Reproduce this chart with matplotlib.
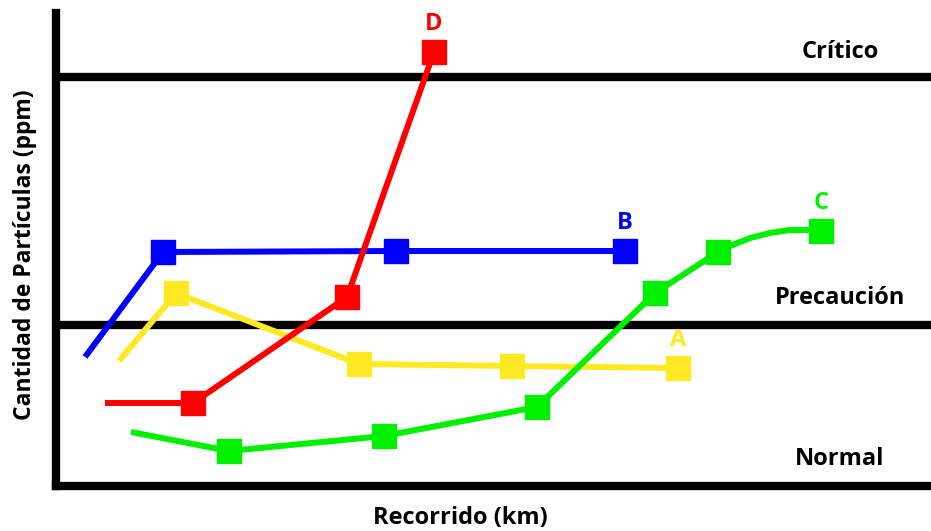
import matplotlib
matplotlib.use('Agg')
import matplotlib.pyplot as plt

# recorrido (km) / particulas (ppm) in arbitrary units
a_x = [63, 120, 303, 456, 622]
a_y = [125, 193, 122, 120, 118]
a_marks = [1, 2, 3, 4]

b_x = [29, 107, 340, 569]
b_y = [129, 234, 235, 235]
b_marks = [1, 2, 3]

c_x = [75, 173, 328, 481, 599, 662, 674, 694, 714, 734, 754, 765]
c_y = [54, 35, 50, 79, 193, 234, 240, 248, 253, 256, 256, 255]
c_marks = [1, 2, 3, 4, 5, 11]

d_x = [49, 137, 291, 378]
d_y = [83, 83, 189, 434]
d_marks = [1, 2, 3]

levels = [161, 409]
level_names = ['Normal', 'Precaución', 'Crítico']
level_text_y = [27, 188, 434]

series = [
    ('A', a_x, a_y, a_marks, '#ffe922'),
    ('B', b_x, b_y, b_marks, '#0000ff'),
    ('C', c_x, c_y, c_marks, '#00f000'),
    ('D', d_x, d_y, d_marks, '#ff0000'),
]

plt.rcParams['font.family'] = ['Open Sans', 'DejaVu Sans']
plt.rcParams['font.weight'] = 'bold'

W, H = 931, 531
fig = plt.figure(figsize=(W / 100, H / 100), dpi=100)
ax = fig.add_axes([56 / W, (H - 486) / H, (W - 56) / W, (486 - 13) / H])
ax.set_xlim(0, 875)
ax.set_ylim(0, 473)

for lv in levels:
    ax.axhline(lv, color='black', lw=6, zorder=1)

for name, xs, ys, marks, col in series:
    ax.plot(xs, ys, color=col, lw=4.3, marker='s', markersize=17,
            markevery=marks, solid_capstyle='butt', solid_joinstyle='round', zorder=3)
    ax.annotate(name, (xs[-1], ys[-1]), xytext=(0, 20), textcoords='offset points',
                ha='center', va='center', color=col, fontsize=17, fontweight='bold')

for name, ty in zip(level_names, level_text_y):
    ax.text(784, ty, name, ha='center', va='center', fontsize=17, fontweight='bold')

for s in ['top', 'right']:
    ax.spines[s].set_visible(False)
for s in ['left', 'bottom']:
    ax.spines[s].set_linewidth(6)
    ax.spines[s].set_capstyle('projecting')
ax.set_xticks([])
ax.set_yticks([])

fig.text(460 / W, 1 - 518 / H, 'Recorrido (km)', ha='center', va='center',
         fontsize=17, fontweight='bold')
fig.text(25 / W, 1 - 255 / H, 'Cantidad de Partículas (ppm)', ha='center', va='center',
         rotation=90, fontsize=16.5, fontweight='bold')

fig.savefig('out.png', dpi=100)
